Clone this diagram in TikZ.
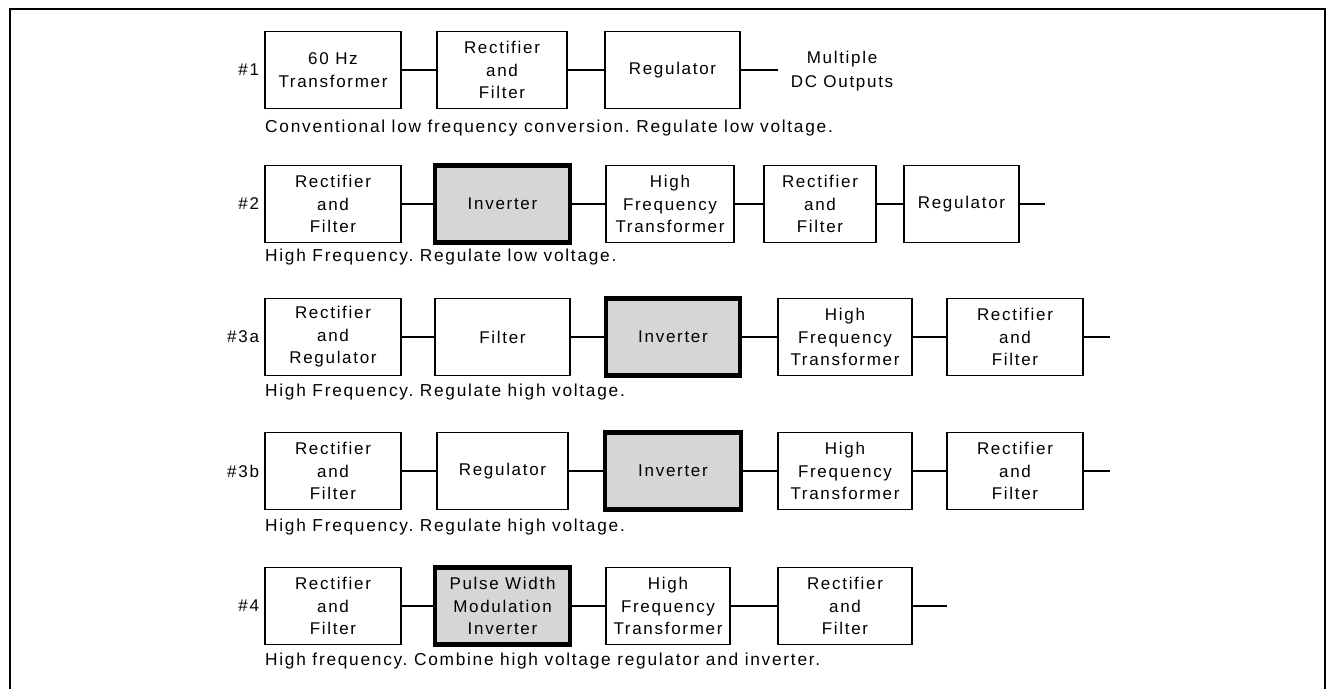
\documentclass[tikz,border=0pt]{standalone}
\usepackage{fontspec}
\setmainfont{Liberation Sans}[LetterSpace=10]
\usetikzlibrary{positioning}

\tikzset{
  blk/.style={draw, line width=1.6pt, align=center, inner sep=0pt,
    minimum height=77pt, font=\fontsize{17}{22.5}\selectfont},
  invblk/.style={blk, line width=4.5pt, fill=black!16},
  wire/.style={line width=1.6pt},
  tag/.style={anchor=east, inner sep=5pt, font=\fontsize{17}{22}\selectfont},
  note/.style={anchor=west, inner sep=0pt, font=\fontsize{17.3}{22}\selectfont}
}

\begin{document}
\frenchspacing
\begin{tikzpicture}[x=1pt,y=-1pt]
\useasboundingbox (0,0) rectangle (1330,689);
\draw[line width=1.6pt] (10,689) -- (10,9) -- (1325,9) -- (1325,689);

% #1
\node[blk, minimum width=136pt] (a1) at (333,70) {60 Hz\\Transformer};
\node[blk, minimum width=130pt] (a2) at (502,70) {Rectifier\\and\\Filter};
\node[blk, minimum width=135pt] (a3) at (672.5,70) {Regulator};
\coordinate (a4) at (778,70);
\node[align=center, font=\fontsize{17}{24}\selectfont] (aout) at (842,71) {Multiple\\DC Outputs};
\node[tag] (ta) at (a1.west) {\#1};
\node[note] (na) at (265,128) {Conventional low frequency conversion. Regulate low voltage.};
\path[wire] (a1) edge (a2) (a2) edge (a3) (a3) edge (a4);

% #2
\node[blk, minimum width=136pt] (b1) at (333,204) {Rectifier\\and\\Filter};
\node[invblk, minimum width=135pt] (b2) at (502.5,204) {Inverter};
\node[blk, minimum width=128pt] (b3) at (670,204) {High\\Frequency\\Transformer};
\node[blk, minimum width=112pt] (b4) at (820,204) {Rectifier\\and\\Filter};
\node[blk, minimum width=115pt] (b5) at (961.5,204) {Regulator};
\coordinate (b6) at (1045,204);
\node[tag] (tb) at (b1.west) {\#2};
\node[note] (nb) at (265,257) {High Frequency. Regulate low voltage.};
\path[wire] (b1) edge (b2) (b2) edge (b3) (b3) edge (b4) (b4) edge (b5) (b5) edge (b6);

% #3a
\node[blk, minimum width=136pt] (c1) at (333,337) {Rectifier\\and\\Regulator};
\node[blk, minimum width=135pt] (c2) at (502.5,337) {Filter};
\node[invblk, minimum width=134pt] (c3) at (673,337) {Inverter};
\node[blk, minimum width=134pt] (c4) at (845,337) {High\\Frequency\\Transformer};
\node[blk, minimum width=136pt] (c5) at (1015,337) {Rectifier\\and\\Filter};
\coordinate (c6) at (1110,337);
\node[tag] (tc) at (c1.west) {\#3a};
\node[note] (nc) at (265,392) {High Frequency. Regulate high voltage.};
\path[wire] (c1) edge (c2) (c2) edge (c3) (c3) edge (c4) (c4) edge (c5) (c5) edge (c6);

% #3b
\node[blk, minimum width=136pt] (d1) at (333,471) {Rectifier\\and\\Filter};
\node[blk, minimum width=131pt] (d2) at (502.5,471) {Regulator};
\node[invblk, minimum width=136pt] (d3) at (673,471) {Inverter};
\node[blk, minimum width=134pt] (d4) at (845,471) {High\\Frequency\\Transformer};
\node[blk, minimum width=136pt] (d5) at (1015,471) {Rectifier\\and\\Filter};
\coordinate (d6) at (1110,471);
\node[tag] (td) at (d1.west) {\#3b};
\node[note] (nd) at (265,527) {High Frequency. Regulate high voltage.};
\path[wire] (d1) edge (d2) (d2) edge (d3) (d3) edge (d4) (d4) edge (d5) (d5) edge (d6);

% #4
\node[blk, minimum width=136pt] (e1) at (333,606) {Rectifier\\and\\Filter};
\node[invblk, minimum width=135pt] (e2) at (502.5,606) {Pulse Width\\Modulation\\Inverter};
\node[blk, minimum width=124pt] (e3) at (668,606) {High\\Frequency\\Transformer};
\node[blk, minimum width=134pt] (e4) at (845,606) {Rectifier\\and\\Filter};
\coordinate (e5) at (947,606);
\node[tag] (te) at (e1.west) {\#4};
\node[note] (ne) at (265,661) {High frequency. Combine high voltage regulator and inverter.};
\path[wire] (e1) edge (e2) (e2) edge (e3) (e3) edge (e4) (e4) edge (e5);
\end{tikzpicture}
\end{document}
